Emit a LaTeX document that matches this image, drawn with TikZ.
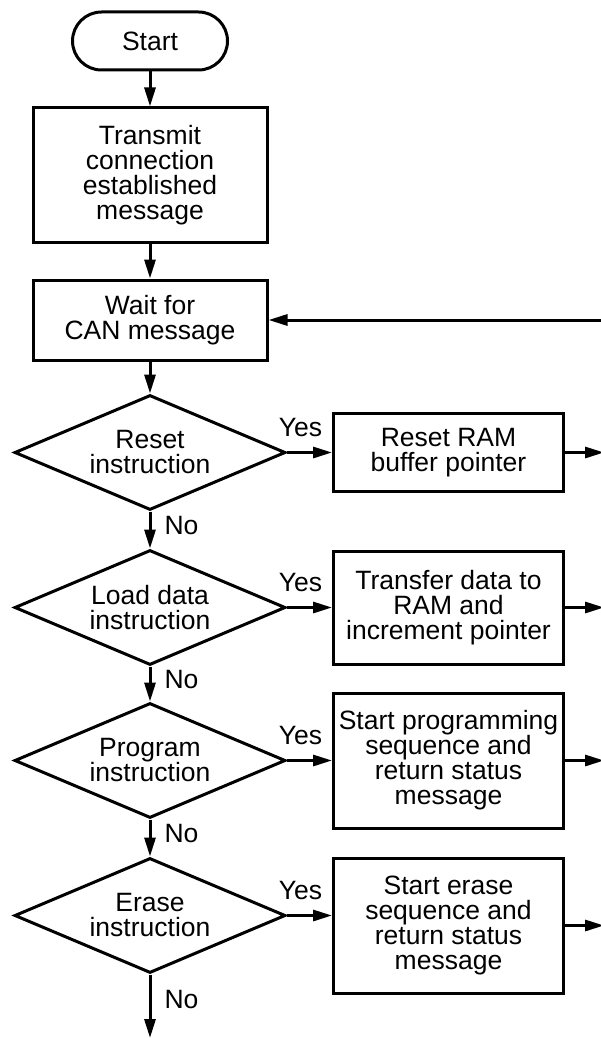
\documentclass[tikz,border=0pt]{standalone}
\usepackage{fontspec}
\setmainfont{Liberation Sans}
\usetikzlibrary{positioning,shapes.geometric,arrows.meta}

\begin{document}
\begin{tikzpicture}[x=1pt,y=1pt]
	\tikzset{base/.style={draw,
				line width=3pt,
				inner sep=0pt,
				align=center,
				font=\fontsize{26.5}{25}\selectfont},
			terminal/.style={base,
				rectangle,
				rounded corners=29pt,
				minimum width=155pt,
				minimum height=58pt},
			process/.style={base,
				rectangle,
				minimum width=234pt},
			action/.style={base,
				rectangle,
				minimum width=230pt},
			decision/.style={base,
				diamond,
				aspect=2.36,
				minimum width=271pt,
				minimum height=115pt},
			answer/.style={inner sep=0pt,
				font=\fontsize{26.5}{25}\selectfont},
			arrow/.style={-{Triangle[length=19pt,width=11pt]},
				line width=3pt}}
	\useasboundingbox (0,0) rectangle (600,-1038);
	% Nodes
	\node[terminal] (start) at (150,-41) {Start};
	\node[process, minimum height=134pt, below=35pt of start] (transmit) {Transmit\\connection\\established\\message};
	\node[process, minimum height=80pt, below=35pt of transmit] (wait) {Wait for\\CAN message};
	\node[decision, below=32pt of wait] (reset) {Reset\\instruction};
	\node[decision, below=37pt of reset] (load) {Load data\\instruction};
	\node[decision, below=35pt of load] (program) {Program\\instruction};
	\node[decision, below=37pt of program] (erase) {Erase\\instruction};
	\node[action, minimum height=78pt, right=45pt of reset] (resetram) {Reset RAM\\buffer pointer};
	\node[action, minimum height=113pt, right=45pt of load] (transfer) {Transfer data to\\RAM and\\increment pointer};
	\node[action, minimum height=135pt, right=45pt of program] (startprog) {Start programming\\sequence and\\return status\\message};
	\node[action, minimum height=135pt, right=45pt of erase, yshift=-10pt] (starterase) {Start erase\\sequence and\\return status\\message};
	\coordinate (edge) at (604,0);
	\coordinate (exit) at (150,-1038);

	% Arrows
	\draw[arrow] (start) -- (transmit);
	\draw[arrow] (transmit) -- (wait);
	\draw[arrow] (wait) -- (reset);
	\draw[arrow] (wait.east -| edge) -- (wait.east);
	\draw[arrow] (reset) -- node[answer, right=13pt, yshift=4pt] {No} (load);
	\draw[arrow] (load) -- node[answer, right=13pt, yshift=4pt] {No} (program);
	\draw[arrow] (program) -- node[answer, right=13pt, yshift=4pt] {No} (erase);
	\draw[arrow] (erase) -- node[answer, right=13pt, yshift=7pt] {No} (exit);
	\draw[arrow] (reset.east) -- node[answer, above=14pt, xshift=-9pt] {Yes} (resetram.west |- reset.east);
	\draw[arrow] (load.east) -- node[answer, above=14pt, xshift=-9pt] {Yes} (transfer.west |- load.east);
	\draw[arrow] (program.east) -- node[answer, above=14pt, xshift=-9pt] {Yes} (startprog.west |- program.east);
	\draw[arrow] (erase.east) -- node[answer, above=14pt, xshift=-9pt] {Yes} (starterase.west |- erase.east);
	\draw[arrow] (resetram.east) -- (resetram.east -| edge);
	\draw[arrow] (transfer.east) -- (transfer.east -| edge);
	\draw[arrow] (startprog.east) -- (startprog.east -| edge);
	\draw[arrow] (starterase.east) -- (starterase.east -| edge);
\end{tikzpicture}
\end{document}
